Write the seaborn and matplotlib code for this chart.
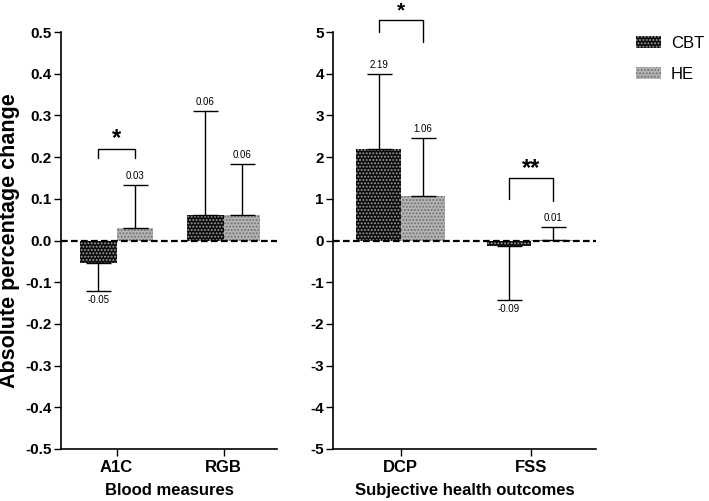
import numpy as np
import pandas as pd
import seaborn as sns
import matplotlib
matplotlib.use("Agg")
import matplotlib.pyplot as plt
from matplotlib.patches import Patch

sns.set_theme(style="ticks")
plt.rcParams['font.family'] = ['Liberation Sans', 'DejaVu Sans']
plt.rcParams['hatch.linewidth'] = 0.9
for k in ['text.color', 'axes.labelcolor', 'xtick.color', 'ytick.color', 'axes.edgecolor']:
    plt.rcParams[k] = 'black'

groups = ["CBT", "HE"]

# Left panel: blood measures
blood_cats = ["A1C", "RGB"]
blood_cbt = [-0.053, 0.06]
blood_he = [0.03, 0.06]
blood_cbt_err_end = [-0.12, 0.31]
blood_he_err_end = [0.133, 0.183]
blood_cbt_labels = ["-0.05", "0.06"]
blood_he_labels = ["0.03", "0.06"]
blood_ticks = [-0.5, -0.4, -0.3, -0.2, -0.1, 0.0, 0.1, 0.2, 0.3, 0.4, 0.5]
blood_tick_labels = ["-0.5", "-0.4", "-0.3", "-0.2", "-0.1", "0.0", "0.1", "0.2", "0.3", "0.4", "0.5"]

# Right panel: subjective health outcomes
subj_cats = ["DCP", "FSS"]
subj_cbt = [2.19, -0.12]
subj_he = [1.06, 0.02]
subj_cbt_err_end = [4.0, -1.42]
subj_he_err_end = [2.45, 0.32]
subj_cbt_labels = ["2.19", "-0.09"]
subj_he_labels = ["1.06", "0.01"]
subj_ticks = [-5, -4, -3, -2, -1, 0, 1, 2, 3, 4, 5]
subj_tick_labels = ["-5", "-4", "-3", "-2", "-1", "0", "1", "2", "3", "4", "5"]

fig = plt.figure(figsize=(7.09, 5.01), dpi=100)
axL = fig.add_axes([61/709, 52/501, 216/709, 417/501])
axR = fig.add_axes([333/709, 52/501, 263/709, 417/501])

styles = {
    "CBT": dict(fc="#0c0c0c", hc="#a0a0a0"),
    "HE": dict(fc="#b4b4b4", hc="#6e6e6e"),
}


def draw_panel(ax, cats, cbt, he, cbt_end, he_end, cbt_lab, he_lab, ylim, yticks, ytl, xlabel, off, sig):
    df = pd.DataFrame({
        "cat": cats * 2,
        "group": ["CBT"] * len(cats) + ["HE"] * len(cats),
        "val": list(cbt) + list(he),
    })
    sns.barplot(data=df, x="cat", y="val", hue="group", hue_order=groups,
                order=cats, ax=ax, errorbar=None, width=0.68, legend=False,
                palette=[styles["CBT"]["fc"], styles["HE"]["fc"]], saturation=1)
    ends = {"CBT": cbt_end, "HE": he_end}
    labs = {"CBT": cbt_lab, "HE": he_lab}
    vals = {"CBT": cbt, "HE": he}
    centers = {}
    for g, cont in zip(groups, ax.containers):
        centers[g] = []
        for i, bar in enumerate(cont):
            bar.set_facecolor(styles[g]["fc"])
            bar.set_edgecolor(styles[g]["hc"])
            bar.set_hatch(".....")
            bar.set_linewidth(0)
            xc = bar.get_x() + bar.get_width() / 2
            centers[g].append(xc)
            v = vals[g][i]
            e = ends[g][i]
            ax.errorbar([xc], [v], yerr=[[max(v - e, 0)], [max(e - v, 0)]],
                        fmt="none", ecolor="black", elinewidth=1.0,
                        capsize=9, capthick=1.0, zorder=3)
            if e >= 0:
                ax.annotate(labs[g][i], (xc, e), xytext=(0, 3),
                            textcoords="offset points", ha="center", va="bottom",
                            fontsize=7)
            else:
                ax.annotate(labs[g][i], (xc, e), xytext=(0, -3),
                            textcoords="offset points", ha="center", va="top",
                            fontsize=7)
    ax.axhline(0, color="black", lw=1.6, ls=(0, (3, 1.5)), zorder=4)
    ax.set_ylim(*ylim)
    ax.set_yticks(yticks)
    ax.set_yticklabels(ytl, fontsize=11, fontweight="bold")
    ax.set_xlim(-0.52, 1.5)
    ax.set_xticks(range(len(cats)))
    ax.set_xticklabels(cats, fontsize=12, fontweight="bold")
    ax.set_xlabel(xlabel, fontsize=12, fontweight="bold", labelpad=6)
    ax.set_ylabel("")
    for s in ["top", "right"]:
        ax.spines[s].set_visible(False)
    for s in ["left", "bottom"]:
        ax.spines[s].set_linewidth(1.2)
        ax.spines[s].set_color("black")
    ax.tick_params(axis="y", width=1.0, length=5, color="black", pad=1.5)
    ax.tick_params(axis="x", width=1.0, length=5, color="black", pad=3)
    # significance brackets
    for (ci, top, lb, rb, txt, fs) in sig:
        x1 = centers["CBT"][ci]
        x2 = centers["HE"][ci]
        ax.plot([x1, x1, x2, x2], [lb, top, top, rb], color="black", lw=1.0,
                clip_on=False)
        ax.text((x1 + x2) / 2, top + off, txt, ha="center", va="center",
                fontsize=fs, fontweight="bold", clip_on=False)


draw_panel(axL, blood_cats, blood_cbt, blood_he, blood_cbt_err_end, blood_he_err_end,
           blood_cbt_labels, blood_he_labels, (-0.5, 0.5),
           blood_ticks, blood_tick_labels,
           "Blood measures", 0.025,
           [(0, 0.22, 0.198, 0.198, "*", 17)])
draw_panel(axR, subj_cats, subj_cbt, subj_he, subj_cbt_err_end, subj_he_err_end,
           subj_cbt_labels, subj_he_labels, (-5, 5), subj_ticks, subj_tick_labels,
           "Subjective health outcomes", 0.22,
           [(0, 5.29, 5.0, 4.76, "*", 15), (1, 1.5, 1.0, 0.95, "**", 17)])

axL.set_ylabel("Absolute percentage change", fontsize=15.5, fontweight="bold", labelpad=4)

handles = [Patch(facecolor=styles[g]["fc"], edgecolor=styles[g]["hc"], hatch=".....",
                 linewidth=0, label=g) for g in groups]
fig.legend(handles=handles, loc="upper left", bbox_to_anchor=(636/709, 1 - 36/501),
           frameon=False, fontsize=12, handlelength=1.5, handleheight=0.75,
           labelspacing=0.95, handletextpad=0.6, borderpad=0, borderaxespad=0)

fig.savefig("out.png", dpi=100)
